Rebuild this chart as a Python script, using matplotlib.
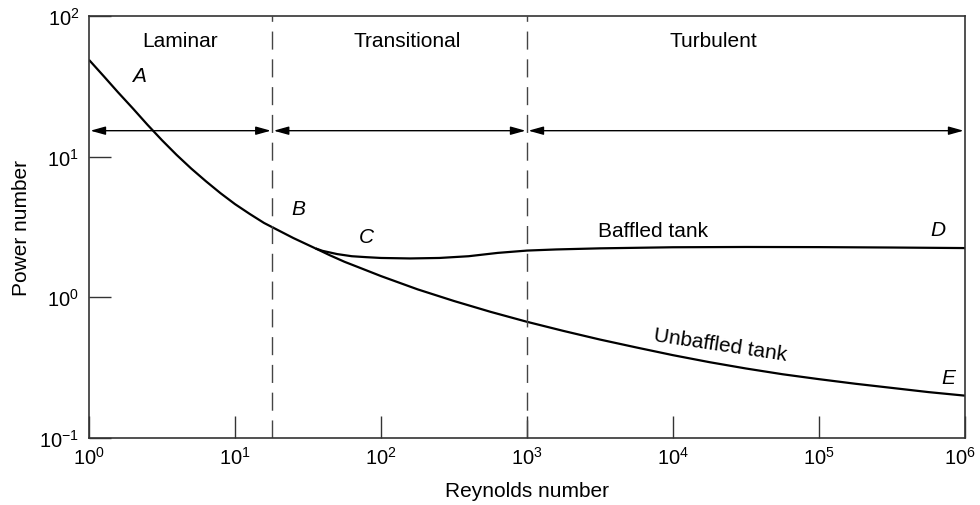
import numpy as np
import matplotlib
matplotlib.use('Agg')
import matplotlib.pyplot as plt
import matplotlib.transforms as mtransforms

plt.rcParams['font.family'] = ['Liberation Sans', 'DejaVu Sans']
plt.rcParams['mathtext.fontset'] = 'custom'
plt.rcParams['mathtext.rm'] = 'Liberation Sans'
plt.rcParams['mathtext.it'] = 'Liberation Sans:italic'

# power curve shared by both tanks (laminar region up to the split)
re_common = [1, 1.26, 1.58, 2.0, 2.51, 3.16, 3.98, 5.01, 6.31, 7.94, 10, 12.6, 15.8, 20, 25.1, 31.6, 35.5]
np_common = [48.8, 37.4, 28.7, 22.0, 16.9, 13.1, 10.3, 8.24, 6.70, 5.51, 4.60, 3.92, 3.38, 2.98, 2.64, 2.36, 2.23]

# baffled tank branch
re_baffled = [35.5, 39.8, 50.1, 63.1, 79.4, 100, 158, 251, 398, 631, 1000, 1585, 3162,
              1e4, 31623, 1e5, 316228, 1e6]
np_baffled = [2.23, 2.14, 2.03, 1.96, 1.93, 1.905, 1.89, 1.905, 1.96, 2.07, 2.15, 2.19, 2.23,
              2.27, 2.28, 2.275, 2.26, 2.24]

# unbaffled tank branch
re_unbaffled = [35.5, 44.7, 56.2, 70.8, 100, 178, 316, 562, 1000, 1778, 3162, 5623, 1e4, 17783,
                31623, 56234, 1e5, 177828, 316228, 562341, 1e6]
np_unbaffled = [2.23, 1.99, 1.79, 1.63, 1.416, 1.14, 0.942, 0.789, 0.670, 0.577, 0.501, 0.440,
                0.388, 0.346, 0.312, 0.284, 0.262, 0.243, 0.227, 0.212, 0.200]

# flow regime boundaries
re_bounds = [1, 18, 1000, 1e6]
regimes = ['Laminar', 'Transitional', 'Turbulent']
regime_x = [4.2, 150, 1.9e4]
arrow_y = 15.3

fig = plt.figure(figsize=(9.8, 5.06), dpi=100)
ax = fig.add_axes([0.0908, 0.1324, 0.8939, 0.834])

for xs, ys in [(re_common, np_common), (re_baffled, np_baffled), (re_unbaffled, np_unbaffled)]:
    ax.plot(xs, ys, color='black', lw=1.6, solid_joinstyle='round', solid_capstyle='butt')

ax.set_xscale('log')
ax.set_yscale('log')
ax.set_xlim(1, 1e6)
ax.set_ylim(0.1, 100)

for xb in re_bounds[1:-1]:
    ax.axvline(xb, color='#444444', lw=1.0, dashes=(13, 7))

for i in range(3):
    ax.annotate('', xy=(re_bounds[i], arrow_y), xytext=(re_bounds[i + 1], arrow_y),
                arrowprops=dict(arrowstyle='<|-|>,head_length=0.9,head_width=0.25',
                                color='black', lw=1.0, shrinkA=1, shrinkB=1))
    ax.text(regime_x[i], 67, regimes[i], ha='center', va='center', fontsize=15)

lbl = dict(style='italic', fontsize=15, ha='center', va='center')
ax.text(2.2, 38, 'A', **lbl)
ax.text(27, 4.3, 'B', **lbl)
ax.text(80, 2.7, 'C', **lbl)
ax.text(6.5e5, 3.05, 'D', **lbl)
ax.text(7.7e5, 0.27, 'E', **lbl)
ax.text(7300, 3.0, 'Baffled tank', fontsize=15, ha='center', va='center')
ax.text(2.1e4, 0.46, 'Unbaffled tank', fontsize=15, ha='center', va='center', rotation=-8.5)

ax.set_xticks([1, 10, 100, 1e3, 1e4, 1e5, 1e6])
ax.set_yticks([0.1, 1, 10, 100])
ax.set_xticklabels([r'$10^{%d}$' % k for k in range(7)])
ax.set_yticklabels([r'$10^{-1}$', r'$10^{0}$', r'$10^{1}$', r'$10^{2}$'])
ax.minorticks_off()
ax.tick_params(direction='in', length=16, width=1.0, color='#333333',
               labelsize=14.5, pad=6)
ax.tick_params(axis='y', pad=7)

# keep the last x label inside the figure edge
last = ax.get_xticklabels()[-1]
last.set_transform(last.get_transform() +
                   mtransforms.ScaledTranslation(-4 / 72, 0, fig.dpi_scale_trans))

for s in ax.spines.values():
    s.set_linewidth(1.2)
    s.set_color('#333333')

ax.set_xlabel('Reynolds number', fontsize=15, labelpad=9)
ax.set_ylabel('Power number', fontsize=15, labelpad=6)

fig.savefig('out.png', dpi=100)
